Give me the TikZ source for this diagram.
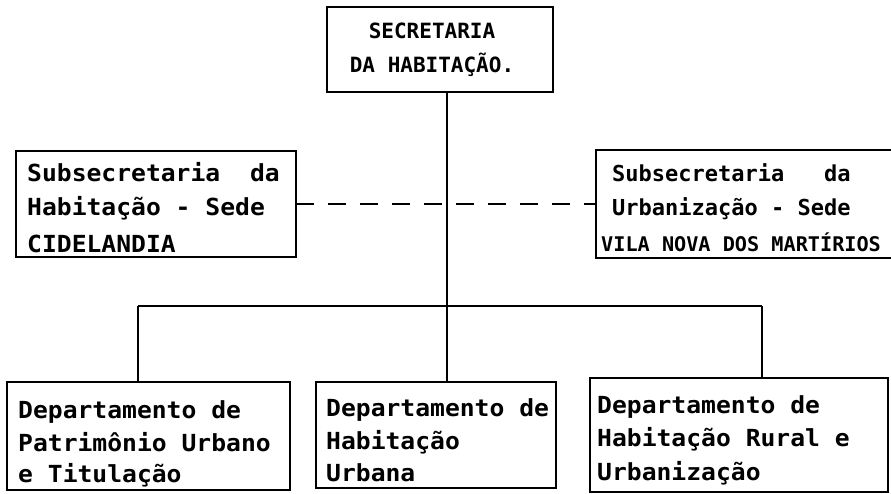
\documentclass[tikz,border=0pt]{standalone}
\usepackage{fontspec}
\newfontfamily\tw[FakeStretch=1.05]{DejaVu Sans Mono}
\newfontfamily\twc{DejaVu Sans Mono}
\begin{document}
\begin{tikzpicture}[x=1pt,y=-1pt,
  box/.style={draw,line width=2pt,inner sep=0pt,outer sep=0pt,rectangle},
  conn/.style={line width=2pt},
  dconn/.style={line width=2pt,dash pattern=on 18pt off 14pt},
  lbl/.style={anchor=base west,inner sep=0pt,font=\tw\bfseries\fontsize{23.5}{28}\selectfont},
  rlbl/.style={anchor=base west,inner sep=0pt,font=\twc\bfseries\fontsize{22}{28}\selectfont},
  toplbl/.style={inner sep=0pt,align=center,font=\twc\bfseries\fontsize{21}{34}\selectfont}]
\clip (0,0) rectangle (891,494);
\fill[white] (0,0) rectangle (891,494);
% boxes
\node[box,minimum width=226pt,minimum height=85pt] (sec) at (440,49.5) {};
\node[box,minimum width=280pt,minimum height=106pt] (subH) at (156,204) {};
\node[box,minimum width=299pt,minimum height=108pt] (subU) at (745.5,204) {};
\node[box,minimum width=283pt,minimum height=108pt] (d1) at (148.5,436) {};
\node[box,minimum width=240pt,minimum height=106pt] (d2) at (436,435) {};
\node[box,minimum width=298pt,minimum height=114pt] (d3) at (739,435) {};
% texts
\node[toplbl] (tsec) at (432,50) {SECRETARIA\\DA HABITAÇÃO.};
\node[lbl] (h1) at (27,182) {Subsecretaria\ \ da};
\node[lbl] (h2) at (27,216) {Habitação - Sede};
\node[lbl] (h3) at (27,253) {CIDELANDIA};
\node[rlbl] (u1) at (612,182) {Subsecretaria\ \ \ da};
\node[rlbl] (u2) at (612,216) {Urbanização - Sede};
\node[anchor=base west,inner sep=0pt,font=\twc\bfseries\fontsize{20.2}{24}\selectfont] (u3) at (601,252) {VILA NOVA DOS MARTÍRIOS};
\node[lbl] (a1) at (18,418) {Departamento de};
\node[lbl] (a2) at (18,451) {Patrimônio Urbano};
\node[lbl] (a3) at (18,482) {e Titulação};
\node[lbl] (b1) at (326,416) {Departamento de};
\node[lbl] (b2) at (326,449) {Habitação};
\node[lbl] (b3) at (326,481) {Urbana};
\node[lbl] (c1) at (597,413) {Departamento de};
\node[lbl] (c2) at (597,446) {Habitação Rural e};
\node[lbl] (c3) at (597,480) {Urbanização};
% connectors
\coordinate (trunk) at (447,306);
\coordinate (busL) at (138,306);
\coordinate (busR) at (762,306);
\draw[conn] (sec.south -| trunk) -- (trunk |- d2.north);
\draw[conn] (busL) -- (busR);
\draw[conn] (busL) -- (busL |- d1.north);
\draw[conn] (busR) -- (busR |- d3.north);
\draw[dconn] (subH.east) -- (subU.west);
\end{tikzpicture}
\end{document}
